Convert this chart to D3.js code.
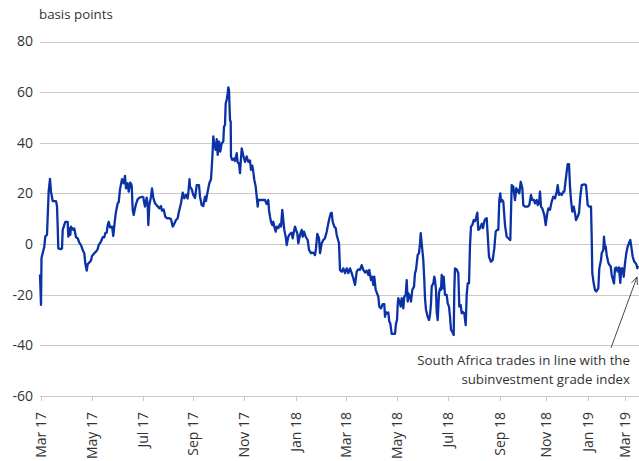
<!DOCTYPE html>
<html>
<head>
<meta charset="utf-8">
<script src="https://cdn.jsdelivr.net/npm/d3@7"></script>
<style>
  html, body { margin: 0; padding: 0; background: #fff; }
  svg { display: block; font-family: "Open Sans", "Noto Sans", sans-serif; }
</style>
</head>
<body>
<svg id="chart" width="639" height="461"></svg>
<script>
// Observation index (trading-day sequence) and spread in basis points
const days = [0,1,1.5,4.3,5.3,7,8.7,10,11,12.7,16,17,17.7,18.3,21,22,22.7,25.3,27.7,28.3,29.3,30.3,31,33.3,34.3,36,37.7,39.3,41,42.7,44.3,45.3,46.7,47.7,49.3,51,52,54.3,56,57.7,58.7,61,62.7,64.3,65.3,66.7,67.7,68.7,70,72,73.3,74.7,76,77.7,78.7,80,82,83.7,85,86,87.7,88.7,90.3,91.7,92.7,93.7,95,96,97.7,99.3,102,103.3,104.3,105,106.7,107.7,108.3,109.3,111,112,113.3,115,116.7,118,119.3,121,122,123.7,125.3,127,129.3,131,132.7,133.7,136,137.7,138.7,141,142.7,144.3,146,147.7,148.5,149.5,150,151.7,153.3,155,156.7,159,160,161.7,163.3,165,166,167.3,169.3,171,172.3,173.3,174.3,175.7,176.7,177.7,179,180.3,181.7,183.3,184,185,185.7,186.7,187.7,188.3,189,190,190.7,191,192.3,194,195,196.7,197.7,199,200,201.7,203.3,205,206.7,208.3,210,211,212.3,213.3,214.3,215.7,216.7,217.7,218.3,221.7,225,226.7,228.3,229,230,231,232.3,233.3,234.3,235.7,236.7,238.3,240,241,242.3,243.3,244.3,245.7,246.7,248.3,250,251.7,252.7,253.7,255,256,257.3,258.3,260,261.7,262.7,264,265.7,267.7,269,271,273.3,275,276,277.3,279,280,281.7,283.3,285,286.7,287.7,289,290.7,291.7,292.7,294.3,295.7,296.7,299,300,301.7,303.3,305,306.7,308.3,310,311.7,313.3,315,315.7,316.7,318.3,320,321.7,323.3,325,326.7,328.3,329.3,331,332.3,333.3,334.3,335.7,337,338.3,339.3,341,342.7,344.3,345,345.7,346.7,348.3,349.3,350.3,351.7,355,356,357,357.7,358.3,360,360.7,361.7,362.7,363.3,364.3,365.7,366.7,367.7,368.3,369.3,371,372.3,374,375,376,377.7,379,380,380.7,381.7,383.3,384.3,385,386,387.7,389,390,391,391.7,393.3,394.3,395,396,396.7,397.7,399,400,401,401.7,402.7,403.7,405,406.7,407.7,409,410,411,412.3,413.7,414.3,415,416.7,418.3,419.3,420.7,421.7,422.7,424.3,425.7,426.7,427.7,429,430,431,432.3,433.7,435,436,437.3,438.3,440,441.7,443,444.3,445.5,446.7,447.7,449,451,452.7,454.3,455.7,457,458.3,459.3,460.3,461,462.3,463.3,465,466.7,468.3,470.3,471.7,473.3,475,476.3,477.3,478.3,479.3,480.7,482.3,483.3,485,487.7,489.3,491,492.3,494,495,496.7,497.7,499,500,501,502.3,504.3,505.7,507.3,508.3,510,511.7,513.3,515,516.7,517.7,519,520,521.7,523.3,524.3,525.7,526.7,527.7,529,530,531,532.3,533.7,535,536,537.7,539,540.3,541.7,544.3,546,547.7,549,551,551.7,552.3,553.7,555,556.3,558.3,559.3,561,561.7,563.3,564,565,565.7,566.7,568.3,569.3,570.7,571.7,573,574,575,576.3,577.7,579,580.3,581.3,582.7,583.7,585,586.3,587.7,589,590.3,591.3,592.7,594.3,595.7,596.5,597.3,598];
const spread = [-12,-24,-5.5,-1,3,3.6,21,25.7,20.7,17,17,15,6.9,-1.7,-2,-1.7,5.6,8.8,8.8,2.9,6.2,3.6,6.9,5.6,6.2,2.7,2.3,0.6,-0.4,-2.3,-3.6,-7.6,-10.5,-8,-7.3,-6.5,-4.7,-3.6,-3,-2,-0.4,1,2.7,2.7,4.3,4.5,7.5,8.8,6.6,6.9,3.2,8.8,12.8,16.1,16.5,21.6,25.6,24,26.9,22,24,20.7,24.3,23.1,13.5,11.5,14.1,15.8,17.7,18.3,18.7,18.5,16.1,14.8,18.3,15.3,7.5,15.3,18.7,22,18.3,16.1,15.3,14.8,14.1,15,13.2,13.7,10.8,10.2,10.2,9.8,6.9,7.5,9.5,10.2,12.4,16.1,20.3,18.1,19.5,18,20.9,25.6,22.7,21.7,19.4,18.2,23.3,23.3,18.7,15.4,15,18.7,17,20,24,25.6,33.9,42.5,39.1,37.2,41.4,35.2,40.5,36.5,39.8,40.5,46.4,47,55.6,56.9,59.6,61.9,60.8,49,48.4,34.5,33.2,33.8,32.8,35.9,32.2,31.9,28,37.8,35,32.5,34.6,32.5,33,29.3,31,28.6,25.3,22.7,18.7,14.8,17.4,17.4,17.4,15.8,17.4,13.5,10.8,8.8,7.5,8.8,6.9,4.9,6.9,6.3,7.9,6.9,13.5,9.5,5.6,2.9,-0.4,2.9,4,4.5,2.3,4.5,6.9,5.6,4.2,0.3,3.6,5.6,2.9,4.9,2.9,1.6,-2.3,-3.6,-3.4,-4.3,-1.7,4,2.3,-3.6,0.3,1.6,2.3,4.9,6.9,9.5,12.2,12.4,8.8,6.9,6.3,3.6,0.3,-10.2,-10.9,-9.6,-11.5,-9.6,-11.5,-9.6,-11.5,-13.5,-16.1,-14,-10.9,-10,-10.2,-8.3,-10.2,-11.2,-10.5,-12.2,-10.2,-14.2,-12.9,-16.1,-12.9,-18.1,-19.4,-20.8,-24.7,-25.4,-23.7,-23.7,-28.7,-26.8,-27.4,-27,-30.6,-31.3,-35.5,-35.5,-31.3,-30,-24,-21.4,-23.4,-24.7,-21.4,-22.7,-25.4,-20.8,-20.1,-14.2,-22.7,-19.4,-20.1,-22.7,-18.1,-16.8,-11.5,-10.2,-4.3,-3.6,0.3,4.3,0.3,-6.3,-14.2,-21.4,-26,-28.7,-30,-28,-23.4,-16.8,-15.5,-12.9,-14.2,-18.1,-26.7,-30,-19.4,-17.5,-18.1,-12.2,-17.5,-12.9,-20.1,-20.1,-23.4,-24.7,-28.7,-33.9,-34.6,-35.9,-18.1,-9.6,-10,-11.5,-24.7,-24,-27.4,-26.8,-27.4,-32,-20.1,-15.5,-15.5,-0.4,6.9,7.5,9.5,9,10.2,12.4,5.6,6.3,8,6.3,9,10,10.2,3.6,-5,-7,-6.3,-1.7,4.9,5.6,5.6,17.4,20,16.8,17.4,16.8,7.5,2.9,2.3,1.6,23.3,22.7,17.4,22.1,20.7,21.4,20,24.6,22.1,15.4,14.8,14.8,15.4,19.4,17.4,17.4,16.1,17.4,15.4,16.1,20.7,14.8,14.1,11.5,7.5,12.2,14.1,13.5,16.8,18.7,18,20.7,23.3,19.4,20,19.4,20.7,20.7,25.3,28.6,31.6,31.6,22.7,17.4,12.8,14.8,12.2,9.5,10.8,12.2,18.7,23.3,23.6,23.3,15.4,14.8,14.8,2.9,-11.5,-15.5,-18.1,-18.7,-17.5,-9.6,-6.3,-3.6,-2.3,2.9,-1.7,-1,-4.3,-7.4,-8.2,-8.8,-12.2,-14.2,-15.5,-9.6,-9.2,-10.9,-9.2,-15.3,-9.6,-9.6,-12.9,-7.6,-3.6,-1,0.4,1.6,-1,-5,-7,-7.6,-8.2,-9.5,-8.6,-9];

const tickDays = [1, 51.7, 102.7, 153.3, 204.3, 255.7, 306, 357.3, 408.3, 460, 505.7, 548.3, 585];
const tickLabels = ["Mar 17","May 17","Jul 17","Sep 17","Nov 17","Jan 18","Mar 18","May 18","Jul 18","Sep 18","Nov 18","Jan 19","Mar 19"];
const yTicks = [-60, -40, -20, 0, 20, 40, 60, 80];
const yTitle = "basis points";
const noteLines = ["South Africa trades in line with the", "subinvestment grade index"];
const noteTarget = [597, -13];   // day, value the arrow points at
const noteTail = [571, -41];

const svg = d3.select("#chart");
const x = d3.scaleLinear().domain([0, 598]).range([40, 638]);
const y = d3.scaleLinear().domain([-60, 80]).range([396, 41.5]);

const textColor = "#333333";
const gridColor = "#c9c9c9";

// gridlines
svg.append("g").selectAll("line").data(yTicks).join("line")
  .attr("x1", 40).attr("x2", 639)
  .attr("y1", d => Math.round(y(d)) + 0.5).attr("y2", d => Math.round(y(d)) + 0.5)
  .attr("stroke", gridColor).attr("stroke-width", 1.2);

// y labels
svg.append("g").selectAll("text").data(yTicks).join("text")
  .attr("x", 33).attr("y", d => y(d)).attr("dy", "0.35em")
  .attr("text-anchor", "end").attr("font-size", 14).attr("fill", textColor)
  .text(d => d);

svg.append("text").attr("x", 39).attr("y", 19).attr("font-size", 13.3)
  .attr("fill", textColor).text(yTitle);

// x ticks
const xg = svg.append("g");
xg.selectAll("line").data(tickDays).join("line")
  .attr("x1", d => Math.round(x(d)) + 0.5).attr("x2", d => Math.round(x(d)) + 0.5)
  .attr("y1", y(-60)).attr("y2", y(-60) + 5)
  .attr("stroke", gridColor).attr("stroke-width", 1);
xg.selectAll("text").data(tickDays).join("text")
  .attr("transform", d => `translate(${x(d) + 5},${y(-60) + 16}) rotate(-90)`)
  .attr("text-anchor", "end").attr("font-size", 14).attr("fill", textColor)
  .text((d, i) => tickLabels[i]);

// line
const pts = days.map((d, i) => [d, spread[i]]);
svg.append("path").datum(pts)
  .attr("fill", "none").attr("stroke", "#0a32a6").attr("stroke-width", 2.3)
  .attr("stroke-linejoin", "round")
  .attr("d", d3.line().x(d => x(d[0])).y(d => y(d[1])));

// annotation
svg.append("g").selectAll("text").data(noteLines).join("text")
  .attr("x", 630).attr("y", (d, i) => 365 + i * 19)
  .attr("text-anchor", "end").attr("font-size", 13.3).attr("fill", textColor)
  .text(d => d);

const tx = x(noteTarget[0]), ty = y(noteTarget[1]);
const sx = x(noteTail[0]), sy = y(noteTail[1]);
svg.append("line").attr("x1", sx).attr("y1", sy).attr("x2", tx).attr("y2", ty)
  .attr("stroke", "#333").attr("stroke-width", 0.9);
const ang = Math.atan2(ty - sy, tx - sx);
const hl = 8, ha = 0.4;
const head = [[tx - hl * Math.cos(ang - ha), ty - hl * Math.sin(ang - ha)], [tx, ty], [tx - hl * Math.cos(ang + ha), ty - hl * Math.sin(ang + ha)]];
svg.append("path").attr("d", d3.line()(head)).attr("fill", "none")
  .attr("stroke", "#333").attr("stroke-width", 0.9);
</script>
</body>
</html>
